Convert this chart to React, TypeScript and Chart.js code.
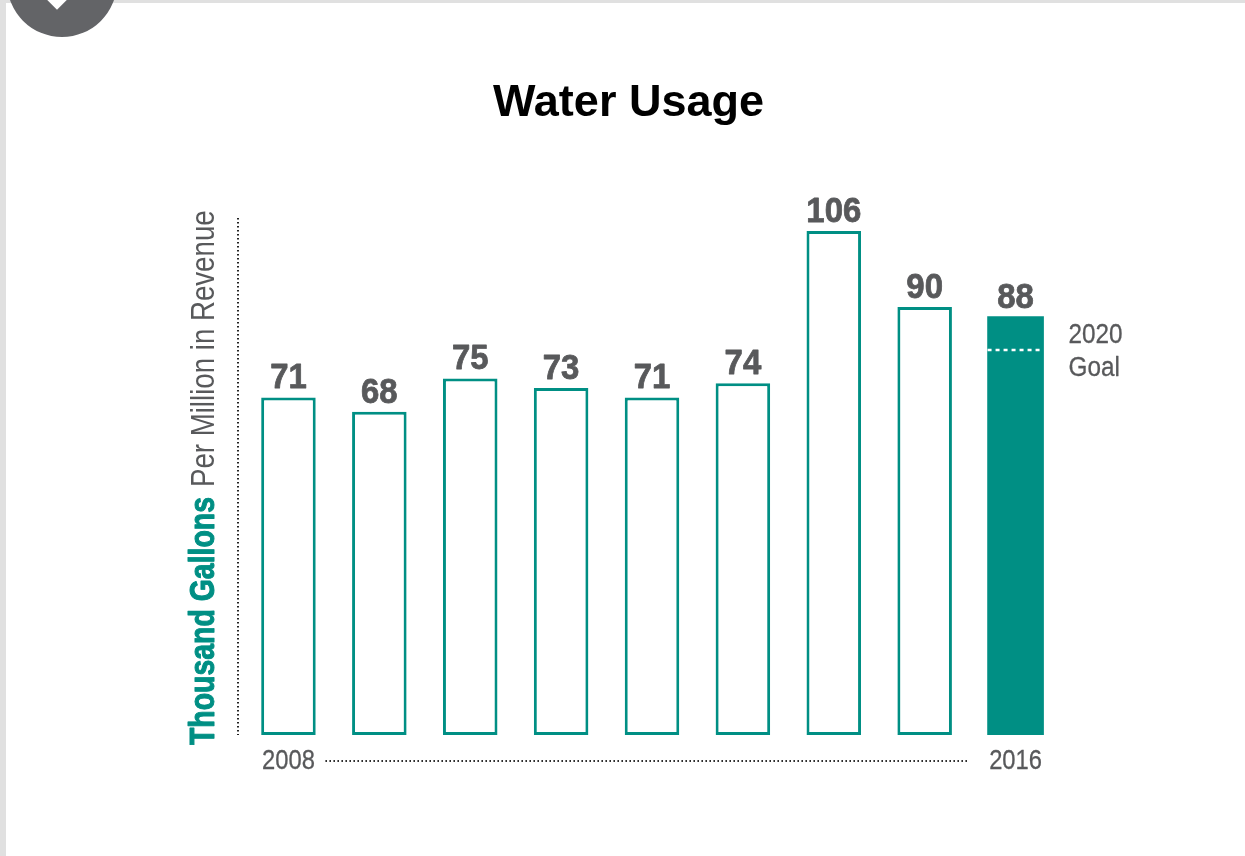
import React, { useEffect, useRef } from "react";
import { Chart, registerables } from "chart.js";

Chart.register(...registerables);

const years = ["2008", "2009", "2010", "2011", "2012", "2013", "2014", "2015", "2016"];
const usage = [71, 68, 75, 73, 71, 74, 106, 90, 88];
const outlined = [71, 68, 75, 73, 71, 74, 106, 90, null];
const filled = [null, null, null, null, null, null, null, null, 88];
const goalValue = 81;
const goalLabels = ["2020", "Goal"];
const axisBold = "Thousand Gallons";
const axisLight = "Per Million in Revenue";
const titleText = "Water Usage";

const TEAL = "#008f84";
const GREY = "#58595b";
const SANS = '"Liberation Sans", Arial, sans-serif';

// Draws text squeezed horizontally, standing in for the condensed face of the reference.
function squeezed(ctx: any, text: string, x: number, y: number, sx: number, heavy = 0) {
  ctx.save();
  ctx.translate(x, y);
  ctx.scale(sx, 1);
  ctx.fillText(text, 0, 0);
  if (heavy > 0) {
    ctx.strokeStyle = ctx.fillStyle;
    ctx.lineWidth = heavy;
    ctx.lineJoin = "round";
    ctx.strokeText(text, 0, 0);
  }
  ctx.restore();
}

const annotate = {
  id: "annotate",
  afterDatasetsDraw(chart: any) {
    const { ctx, chartArea: a, scales } = chart;
    const x = scales.x;
    const y = scales.y;
    ctx.save();

    // title
    ctx.fillStyle = "#000";
    ctx.font = `bold 45px ${SANS}`;
    ctx.textAlign = "center";
    ctx.textBaseline = "middle";
    ctx.fillText(titleText, 628.5, 104);

    // value labels
    ctx.fillStyle = GREY;
    ctx.font = `bold 35px ${SANS}`;
    ctx.textBaseline = "alphabetic";
    usage.forEach((v, i) => {
      squeezed(ctx, String(v), x.getPixelForValue(i), y.getPixelForValue(v) - 9, 0.94, 0.8);
    });

    // year labels
    ctx.font = `27px ${SANS}`;
    ctx.textBaseline = "middle";
    [0, years.length - 1].forEach((i) => {
      squeezed(ctx, years[i], x.getPixelForValue(i), a.bottom + 27, 0.88, 0.3);
    });

    // goal line
    const lastX = x.getPixelForValue(usage.length - 1);
    const gy = y.getPixelForValue(goalValue);
    ctx.strokeStyle = "#fff";
    ctx.lineWidth = 2.5;
    ctx.setLineDash([4, 4]);
    ctx.beginPath();
    ctx.moveTo(lastX - 28, gy);
    ctx.lineTo(lastX + 28, gy);
    ctx.stroke();
    ctx.setLineDash([]);

    // goal label
    ctx.fillStyle = GREY;
    ctx.font = `27px ${SANS}`;
    ctx.textAlign = "left";
    ctx.textBaseline = "middle";
    squeezed(ctx, goalLabels[0], lastX + 53, gy - 14, 0.9, 0.3);
    squeezed(ctx, goalLabels[1], lastX + 53, gy + 19, 0.9, 0.3);

    // dotted axes
    ctx.strokeStyle = "#222";
    ctx.lineWidth = 2;
    ctx.setLineDash([1.5, 2.5]);
    ctx.beginPath();
    ctx.moveTo(a.left - 5, a.top + 6);
    ctx.lineTo(a.left - 5, a.bottom);
    ctx.moveTo(x.getPixelForValue(0) + 37, a.bottom + 26);
    ctx.lineTo(x.getPixelForValue(usage.length - 1) - 47, a.bottom + 26);
    ctx.stroke();
    ctx.setLineDash([]);

    // rotated two-tone axis title
    ctx.translate(a.left - 29, a.bottom + 10);
    ctx.rotate(-Math.PI / 2);
    ctx.textAlign = "left";
    ctx.textBaseline = "alphabetic";
    ctx.font = `bold 34.5px ${SANS}`;
    ctx.fillStyle = TEAL;
    squeezed(ctx, axisBold, 0, 0, 0.824, 1);
    const w = ctx.measureText(axisBold).width * 0.824;
    ctx.font = `33px ${SANS}`;
    ctx.fillStyle = GREY;
    squeezed(ctx, axisLight, w + 10, 0, 0.838);
    ctx.restore();
  },
};

export default function App() {
  const ref = useRef<HTMLCanvasElement>(null);
  useEffect(() => {
    const chart = new Chart(ref.current!, {
      type: "bar",
      data: {
        labels: years,
        datasets: [
          {
            data: outlined,
            backgroundColor: "#fff",
            borderColor: TEAL,
            borderWidth: 3,
            borderSkipped: false,
            grouped: false,
            categoryPercentage: 1,
            barPercentage: 0.6,
          },
          {
            data: filled,
            backgroundColor: TEAL,
            borderWidth: 0,
            grouped: false,
            barThickness: 56,
          },
        ],
      },
      options: {
        responsive: false,
        animation: false,
        layout: { padding: { left: 243, right: 184, top: 212, bottom: 81 } },
        plugins: { legend: { display: false }, title: { display: false }, tooltip: { enabled: false } },
        scales: {
          x: {
            grid: { display: false },
            border: { display: false },
            ticks: { display: false },
            afterFit(s: any) {
              s.height = 40;
            },
          },
          y: { display: false, min: 0, max: 110 },
        },
      },
      plugins: [annotate],
    } as any);
    return () => chart.destroy();
  }, []);

  return (
    <div style={{ position: "absolute", left: 0, top: 0, width: 1245, height: 856, overflow: "hidden", background: "#fff" }}>
      <canvas ref={ref} width={1245} height={856} style={{ position: "absolute", left: 0, top: 0 }} />
      <div style={{ position: "absolute", left: 0, top: 0, width: 1245, height: 3, background: "#e0e0e0" }} />
      <div style={{ position: "absolute", left: 0, top: 0, width: 6, height: 856, background: "#e0e0e0" }} />
      <div style={{ position: "absolute", left: 7, top: -73, width: 110, height: 110, borderRadius: "50%", background: "#636467" }} />
      <div style={{ position: "absolute", left: 48, top: -12, width: 18, height: 18, background: "#fff", transform: "rotate(45deg)" }} />
    </div>
  );
}
